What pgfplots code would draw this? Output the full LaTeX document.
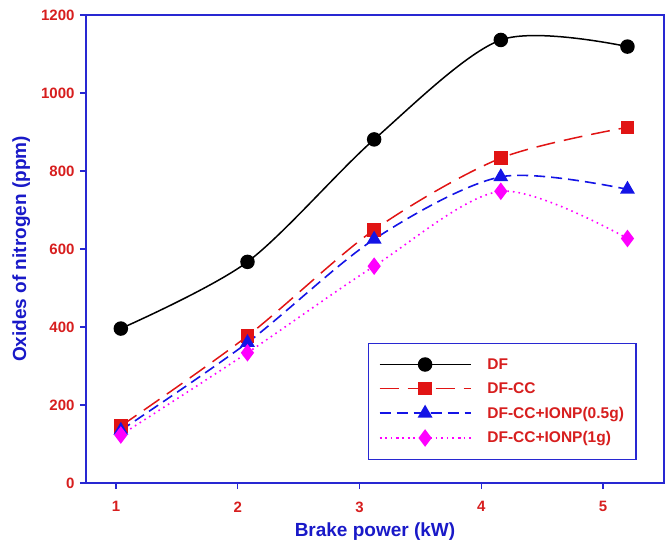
\documentclass[border=0pt]{standalone}
\usepackage{pgfplots}
\pgfplotsset{compat=1.18}
\usepackage{fontspec}
\setmainfont{Liberation Sans}
\definecolor{axblue}{RGB}{40,40,210}
\definecolor{lblblue}{RGB}{25,25,200}
\definecolor{tickred}{RGB}{215,30,30}
\definecolor{cred}{RGB}{225,20,20}
\definecolor{cblue}{RGB}{20,20,230}
\definecolor{cmag}{RGB}{255,0,255}
\begin{document}
\begin{tikzpicture}
\useasboundingbox (-86pt,-74pt) rectangle (583pt,483pt);
\begin{axis}[
  at={(0,0)}, anchor=south west,
  scale only axis, width=578pt, height=468pt,
  xmin=0.754, xmax=5.5, ymin=0, ymax=1200,
  xtick={1,2,3,4,5}, ytick={0,200,400,600,800,1000,1200},
  axis line style={axblue, line width=1.4pt},
  tick style={axblue, line width=1.4pt},
  tick align=outside, tick pos=left,
  major tick length=6pt,
  ticklabel style={font=\fontsize{15}{17}\selectfont\bfseries, text=tickred},
  /pgf/number format/assume math mode=true,
  /pgf/number format/1000 sep={},
  xticklabel style={yshift=-9pt},
  yticklabel style={xshift=-2pt},
  xlabel={Brake power (kW)},
  ylabel={Oxides of nitrogen (ppm)},
  label style={font=\fontsize{19}{21}\selectfont\bfseries, text=lblblue},
  xlabel style={yshift=-4pt},
  ylabel style={yshift=4pt},
  legend style={at={(0.488,0.049)}, anchor=south west, draw=axblue, line width=1.4pt,
    font=\fontsize{15.5}{18}\selectfont\bfseries, text=tickred,
    inner xsep=10pt, inner ysep=13pt, row sep=8pt, column sep=14pt, cells={anchor=west}},
  legend image code/.code={%
    \draw[mark repeat=2, mark phase=2] plot coordinates {(0cm,0cm) (1.6cm,0cm) (3.2cm,0cm)};},
  legend cell align=left,
]
\addplot[black, line width=1.5pt, smooth, mark=*, mark size=6.5pt, mark options={solid, fill=black}]
  coordinates {(1.04,396) (2.08,567) (3.12,881) (4.16,1136) (5.2,1119)};
\addlegendentry{DF}
\addplot[cred, line width=1.5pt, smooth, dash pattern=on 19pt off 9pt, mark=square*, mark size=6pt, mark options={solid, fill=cred}]
  coordinates {(1.04,146) (2.08,377) (3.12,649) (4.16,833) (5.2,912)};
\addlegendentry{DF-CC}
\addplot[cblue, line width=1.6pt, smooth, dash pattern=on 11pt off 6pt, mark=triangle*, mark size=7pt, mark options={solid, fill=cblue}]
  coordinates {(1.04,135) (2.08,360) (3.12,625) (4.16,785) (5.2,753)};
\addlegendentry{DF-CC+IONP(0.5g)}
\addplot[cmag, line width=1.6pt, smooth, dash pattern=on 1.6pt off 4pt, mark=diamond*, mark size=7.5pt, mark options={solid, fill=cmag}]
  coordinates {(1.04,123) (2.08,334) (3.12,556) (4.16,748) (5.2,627)};
\addlegendentry{DF-CC+IONP(1g)}
\end{axis}
\end{tikzpicture}
\end{document}
